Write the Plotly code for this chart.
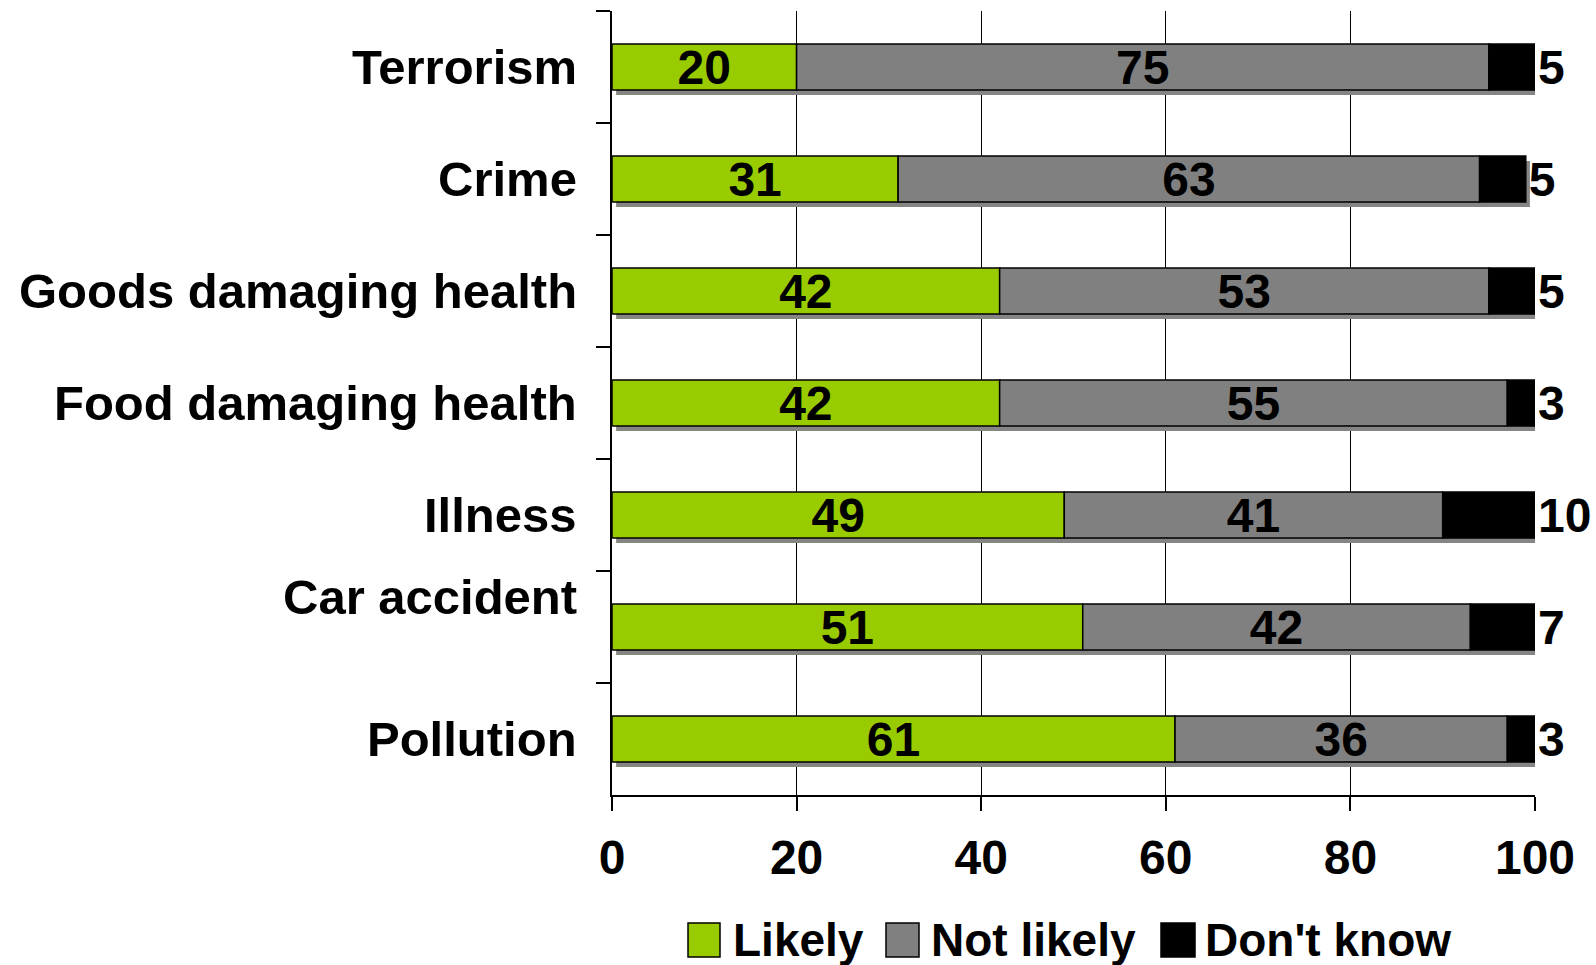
import plotly.graph_objects as go

# Survey: perceived likelihood of risks
categories = ["Terrorism", "Crime", "Goods damaging health", "Food damaging health",
              "Illness", "Car accident", "Pollution"]
likely = [20, 31, 42, 42, 49, 51, 61]
not_likely = [75, 63, 53, 55, 41, 42, 36]
dont_know = [5, 5, 5, 3, 10, 7, 3]
x_ticks = [0, 20, 40, 60, 80, 100]

series_names = ["Likely", "Not likely", "Don't know"]
series_colors = ["#99CC00", "#808080", "#000000"]

FONT = "Liberation Sans, Arial, sans-serif"
W, H = 1596, 965
L, R, T, B = 612, 61, 11, 170
PW, PH = W - L - R, H - T - B

BAR_W = 0.41
SHADOW_DX = 0.45   # shadow shift in x units (~4 px)
SHADOW_DY = 0.045  # shadow shift in category units (~5 px)

totals = [a + b + c for a, b, c in zip(likely, not_likely, dont_know)]
base_not = likely
base_dk = [a + b for a, b in zip(likely, not_likely)]

fig = go.Figure()

# drop shadow behind each full stacked bar
fig.add_trace(go.Bar(
    y=categories, x=totals, base=[SHADOW_DX] * len(categories), orientation="h",
    width=BAR_W, offset=-BAR_W / 2 + SHADOW_DY,
    marker=dict(color="#858585", line=dict(width=0)),
    showlegend=False, hoverinfo="skip",
))

seg_values = [likely, not_likely, dont_know]
seg_bases = [[0] * len(categories), base_not, base_dk]
for name, vals, base, color in zip(series_names, seg_values, seg_bases, series_colors):
    outside = name == "Don't know"
    fig.add_trace(go.Bar(
        name=name, y=categories, x=vals, base=base, orientation="h",
        width=BAR_W, offset=-BAR_W / 2,
        marker=dict(color=color, line=dict(color="#000000", width=1.5)),
        text=[str(v) for v in vals],
        textposition="outside" if outside else "inside",
        insidetextanchor="middle",
        constraintext="none",
        cliponaxis=False,
        textfont=dict(family=FONT, size=48, color="#000000", weight="bold"),
        showlegend=False,
    ))

# category labels left of the axis
annotations = []
for cat in categories:
    annotations.append(dict(
        x=0, y=cat, xref="x", yref="y", text=cat, showarrow=False,
        xanchor="right", yanchor="middle", xshift=-33,
        yshift=30 if cat == "Car accident" else 0,
        font=dict(family=FONT, size=49, color="#000000", weight="bold"),
    ))

# legend drawn as swatches plus labels
shapes = []
legend_items = [(688, 720, 731), (886, 919, 929), (1161, 1195, 1203)]
for (x0, x1, tx), name, color in zip(legend_items, series_names, series_colors):
    shapes.append(dict(
        type="rect", xref="paper", yref="paper",
        x0=(x0 - L) / PW, x1=(x1 - L) / PW,
        y0=(795 - 957) / PH, y1=(795 - 923) / PH,
        fillcolor=color, line=dict(color="#000000", width=1.5),
    ))
    annotations.append(dict(
        x=(tx - L) / PW, y=(795 - 940) / PH, xref="paper", yref="paper",
        text=name, showarrow=False, xanchor="left", yanchor="middle",
        font=dict(family=FONT, size=46, color="#000000", weight="bold"),
    ))

fig.update_layout(
    width=W, height=H,
    margin=dict(l=L, r=R, t=T, b=B, pad=0),
    barmode="overlay",
    plot_bgcolor="#FFFFFF", paper_bgcolor="#FFFFFF",
    showlegend=False,
    annotations=annotations,
    shapes=shapes,
    xaxis=dict(
        range=[0, 100], tickvals=x_ticks, ticktext=[str(t) for t in x_ticks],
        showgrid=True, gridcolor="#000000", gridwidth=1.2,
        zeroline=False, showline=True, linecolor="#000000", linewidth=1.5,
        ticks="outside", ticklen=14, tickcolor="#000000", tickwidth=1.5,
        ticklabelstandoff=6,
        tickfont=dict(family=FONT, size=48, color="#000000", weight="bold"),
    ),
    yaxis=dict(
        categoryorder="array", categoryarray=categories, autorange="reversed",
        showticklabels=False, showgrid=False, zeroline=False,
        showline=True, linecolor="#000000", linewidth=1.5,
        ticks="outside", tickson="boundaries", ticklen=14,
        tickcolor="#000000", tickwidth=1.5,
    ),
)

fig.write_html("out.html")
